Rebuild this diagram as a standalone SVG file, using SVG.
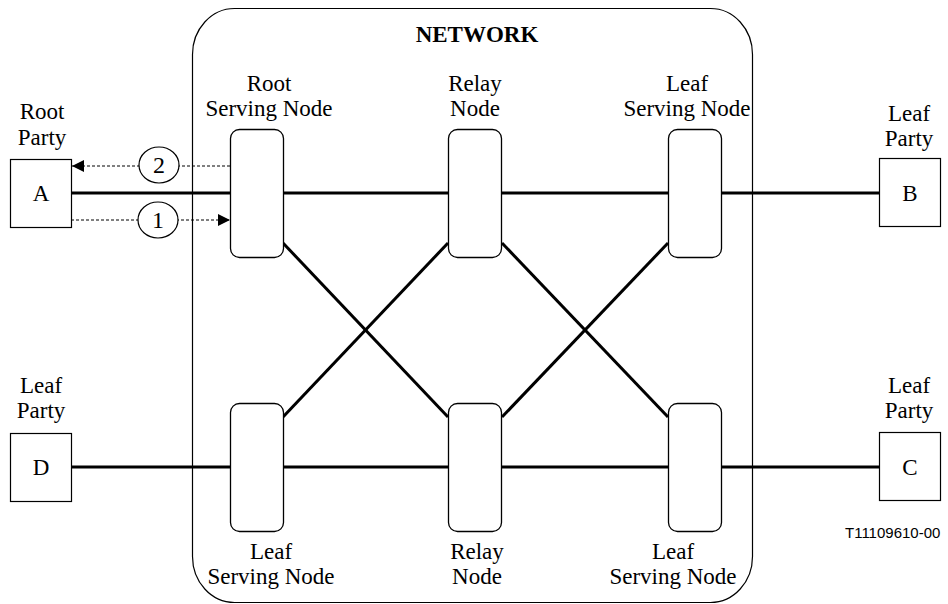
<svg xmlns="http://www.w3.org/2000/svg" width="948" height="604" viewBox="0 0 948 604">
<defs>
<style>
.t{font-family:"Liberation Serif","Times New Roman",serif;font-size:23px;fill:#000;text-anchor:middle}
.b{font-weight:bold}
.n{font-size:24px}
.box{fill:#fff;stroke:#000;stroke-width:1.2}
.node{fill:#fff;stroke:#000;stroke-width:1.3}
.thick{stroke:#000;stroke-width:3;fill:none}
.dash{stroke:#000;stroke-width:1;stroke-dasharray:3 2;fill:none}
.circ{fill:#fff;stroke:#000;stroke-width:1.2}
</style>
<marker id="ah" viewBox="0 0 12 12" refX="12" refY="6" markerWidth="12" markerHeight="12" markerUnits="userSpaceOnUse" orient="auto">
<path d="M0,0 L12,6 L0,12 Z" fill="#000"/>
</marker>
</defs>
<rect width="948" height="604" fill="#fff"/>
<g id="network">
<rect x="192.5" y="8.5" width="560" height="594" rx="42" ry="46" fill="none" stroke="#000" stroke-width="1.2"/>
<text class="t b" x="477" y="42">NETWORK</text>
</g>
<g id="connectors">
<line class="thick" x1="71" y1="193" x2="879" y2="193"/>
<line class="thick" x1="71" y1="467" x2="879" y2="467"/>
<line class="thick" x1="283" y1="243" x2="448" y2="417"/>
<line class="thick" x1="448" y1="243" x2="283" y2="417"/>
<line class="thick" x1="502" y1="243" x2="668" y2="417"/>
<line class="thick" x1="668" y1="243" x2="502" y2="417"/>
<line class="dash" x1="230" y1="166" x2="72" y2="166" marker-end="url(#ah)"/>
<line class="dash" x1="71" y1="220" x2="230" y2="220" marker-end="url(#ah)"/>
</g>
<g id="msg2">
<ellipse class="circ" cx="159" cy="165" rx="20" ry="18"/>
<text class="t n" x="159" y="173">2</text>
</g>
<g id="msg1">
<ellipse class="circ" cx="158" cy="220" rx="20" ry="18"/>
<text class="t n" x="158" y="228">1</text>
</g>
<g id="partyA">
<rect class="box" x="10.5" y="159.5" width="61" height="68"/>
<text class="t" x="41" y="201">A</text>
<text class="t" x="42" y="119">Root</text>
<text class="t" x="42" y="145">Party</text>
</g>
<g id="partyB">
<rect class="box" x="879.5" y="158.5" width="61" height="68"/>
<text class="t" x="910" y="201">B</text>
<text class="t" x="909" y="121">Leaf</text>
<text class="t" x="909" y="146">Party</text>
</g>
<g id="partyD">
<rect class="box" x="10.5" y="433.5" width="61" height="68"/>
<text class="t" x="41" y="475">D</text>
<text class="t" x="41" y="393">Leaf</text>
<text class="t" x="41" y="418">Party</text>
</g>
<g id="partyC">
<rect class="box" x="879.5" y="432.5" width="61" height="68"/>
<text class="t" x="910" y="475">C</text>
<text class="t" x="909" y="393">Leaf</text>
<text class="t" x="909" y="418">Party</text>
</g>
<g id="rootServing">
<rect class="node" x="230.5" y="129.5" width="53" height="128" rx="9"/>
<text class="t" x="269" y="91">Root</text>
<text class="t" x="269" y="116">Serving Node</text>
</g>
<g id="relayTop">
<rect class="node" x="448.5" y="129.5" width="53" height="128" rx="9"/>
<text class="t" x="475" y="91">Relay</text>
<text class="t" x="475" y="116">Node</text>
</g>
<g id="leafServingTop">
<rect class="node" x="668.5" y="129.5" width="53" height="128" rx="9"/>
<text class="t" x="687" y="91">Leaf</text>
<text class="t" x="687" y="116">Serving Node</text>
</g>
<g id="leafServingBL">
<rect class="node" x="230.5" y="403.5" width="53" height="128" rx="9"/>
<text class="t" x="271" y="559">Leaf</text>
<text class="t" x="271" y="584">Serving Node</text>
</g>
<g id="relayBottom">
<rect class="node" x="448.5" y="403.5" width="53" height="128" rx="9"/>
<text class="t" x="477" y="559">Relay</text>
<text class="t" x="477" y="584">Node</text>
</g>
<g id="leafServingBR">
<rect class="node" x="668.5" y="403.5" width="53" height="128" rx="9"/>
<text class="t" x="673" y="559">Leaf</text>
<text class="t" x="673" y="584">Serving Node</text>
</g>
<text x="845" y="538" font-family="Liberation Sans, Arial, sans-serif" font-size="15" fill="#000">T11109610-00</text>
</svg>
